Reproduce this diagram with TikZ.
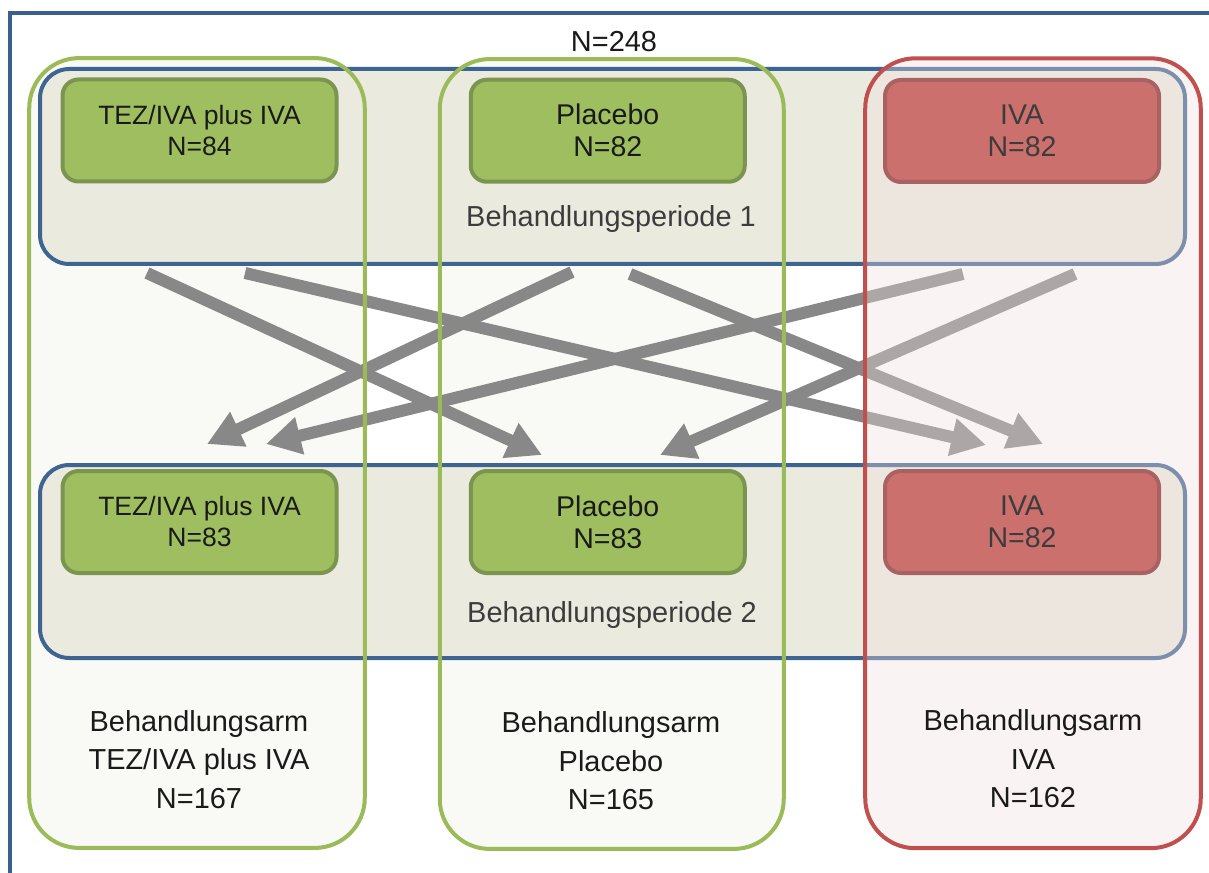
\documentclass[tikz,border=0pt]{standalone}
\usepackage{fontspec}
\setmainfont{Liberation Sans}
\usetikzlibrary{arrows.meta}
\definecolor{frameblue}{RGB}{58,96,144}
\definecolor{periodblue}{RGB}{62,101,146}
\definecolor{periodfill}{RGB}{235,234,223}
\definecolor{armgreen}{RGB}{155,187,89}
\definecolor{armgreenfill}{RGB}{249,249,245}
\definecolor{armred}{RGB}{192,80,77}
\definecolor{armredfill}{RGB}{240,223,223}
\definecolor{boxgreen}{RGB}{159,190,95}
\definecolor{boxgreenline}{RGB}{123,148,79}
\definecolor{boxred}{RGB}{204,112,110}
\definecolor{boxredline}{RGB}{169,98,98}
\definecolor{arrowgray}{RGB}{136,136,136}
\definecolor{txt}{RGB}{26,26,26}
\definecolor{txtred}{RGB}{60,60,60}
\begin{document}
\begin{tikzpicture}[x=0.75pt,y=-0.75pt,
  frameline/.style={draw=frameblue, line width=3pt},
  armshape/.style={inner sep=0pt, rounded corners=37.5pt, minimum width=251.25pt, minimum height=592pt},
  armgreenborder/.style={draw=armgreen, line width=3pt, rounded corners=37.5pt},
  armredborder/.style={draw=armred, line width=3pt, rounded corners=37.5pt},
  periodbox/.style={draw=periodblue, fill=periodfill, line width=3pt, rounded corners=22pt, inner sep=0pt, minimum width=858.75pt},
  gbox/.style={draw=boxgreenline, fill=boxgreen, line width=3pt, rounded corners=12pt, inner sep=0pt, minimum width=205.5pt, minimum height=76.5pt, align=center, text=txt},
  rbox/.style={draw=boxredline, fill=boxred, line width=3pt, rounded corners=12pt, inner sep=0pt, minimum width=205.5pt, minimum height=76.5pt, align=center, text=txtred},
  smallfont/.style={font=\fontsize{19.9pt}{23.25pt}\selectfont},
  midfont/.style={font=\fontsize{21.4pt}{24pt}\selectfont},
  lbl/.style={inner sep=0pt, align=center, text=txt, font=\fontsize{21.7pt}{28.9pt}\selectfont},
  xarrow/.style={draw=arrowgray, line width=9pt, -{Triangle[length=26pt,width=27pt]}}
]
\useasboundingbox (0,0) rectangle (1209,873);
\fill[white] (0,0) rectangle (1209,873);

% outer frame
\coordinate (f0) at (10,873);
\coordinate (f1) at (10,13);
\coordinate (f2) at (1209,13);
\draw[frameline] (f0) -- (f1) -- (f2);

% green arm fills
\node[armshape, fill=armgreenfill] (a1) at (197,453) {};
\node[armshape, fill=armgreenfill, minimum width=257.6pt] (a2) at (611.75,454) {};

% period boxes
\node[periodbox, minimum height=146.25pt] (p1) at (612.5,166.5) {};
\node[periodbox, minimum height=144.75pt] (p2) at (612.5,561.5) {};

% arrows
\coordinate (t1) at (147,273);  \coordinate (h1) at (542,455);
\coordinate (t2) at (245,273);  \coordinate (h2) at (986,445);
\coordinate (t3) at (572,272);  \coordinate (h3) at (207,444);
\coordinate (t4) at (630,274);  \coordinate (h4) at (1043,444);
\coordinate (t5) at (963,274);  \coordinate (h5) at (266,444);
\coordinate (t6) at (1075,274); \coordinate (h6) at (660,455);
\draw[xarrow] (t1) -- (h1);
\draw[xarrow] (t2) -- (h2);
\draw[xarrow] (t3) -- (h3);
\draw[xarrow] (t4) -- (h4);
\draw[xarrow] (t5) -- (h5);
\draw[xarrow] (t6) -- (h6);

% red arm translucent fill
\node[armshape, fill=armredfill, fill opacity=0.35] (a3) at (1033,453.25) {};

% inner boxes, period 1
\node[gbox, smallfont] (b1) at (199.5,130.5) {TEZ/IVA plus IVA\\N=84};
\node[gbox, midfont] (b2) at (607.75,130.75) {Placebo\\N=82};
\node[rbox, midfont] (b3) at (1022,131) {IVA\\N=82};
% inner boxes, period 2
\node[gbox, smallfont] (c1) at (199.5,522) {TEZ/IVA plus IVA\\N=83};
\node[gbox, midfont] (c2) at (607.75,522) {Placebo\\N=83};
\node[rbox, midfont] (c3) at (1022,522) {IVA\\N=82};

% labels
\node[lbl] (ntot) at (614,42) {N=248};
\node[lbl, text=txt!85!white] (lp1) at (611,219) {Behandlungsperiode 1};
\node[lbl, text=txt!85!white] (lp2) at (612,615) {Behandlungsperiode 2};
\node[lbl] (la1) at (199,759.5) {Behandlungsarm\\TEZ/IVA plus IVA\\N=167};
\node[lbl] (la2) at (611,761) {Behandlungsarm\\Placebo\\N=165};
\node[lbl] (la3) at (1033,759) {Behandlungsarm\\IVA\\N=162};

% arm borders
\draw[armgreenborder] (a1.north west) rectangle (a1.south east);
\draw[armgreenborder] (a2.north west) rectangle (a2.south east);
\draw[armredborder] (a3.north west) rectangle (a3.south east);
\end{tikzpicture}
\end{document}
